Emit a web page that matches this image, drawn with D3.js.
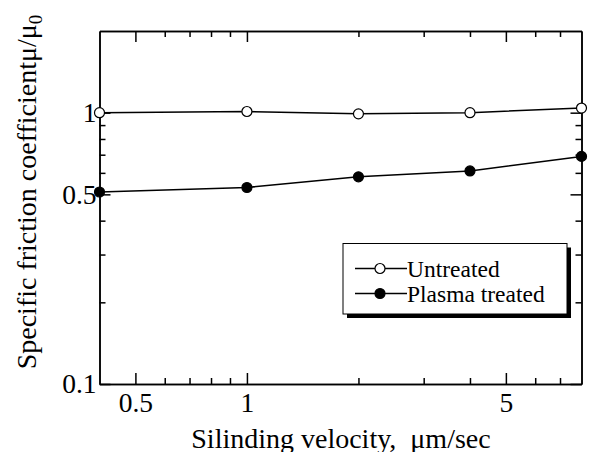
<!DOCTYPE html>
<html>
<head>
<meta charset="utf-8">
<script src="https://cdn.jsdelivr.net/npm/d3@7"></script>
<style>
  body { margin: 0; background: #fff; }
  svg text { font-family: "Liberation Serif", "Times New Roman", Times, "DejaVu Serif", serif; }
</style>
</head>
<body>
<svg id="chart" width="597" height="452"></svg>
<script>
// values
var velocity = [0.4, 1, 2, 4, 8];
var untreated = [1.0, 1.01, 0.99, 1.0, 1.04];
var plasma = [0.51, 0.53, 0.58, 0.61, 0.69];

var xMajor = [0.5, 1, 5];
var xMinor = [0.6, 0.7, 0.8, 0.9, 2, 3, 4, 6, 7];
var yMajor = [0.1, 0.5, 1];
var yMinor = [0.2, 0.3, 0.4, 0.6, 0.7, 0.8, 0.9];

var seriesNames = ["Untreated", "Plasma treated"];

var serif = "'Liberation Serif', 'Times New Roman', Times, 'DejaVu Serif', serif";
var plotL = 99.5, plotR = 581.5, plotT = 31, plotB = 384;

var svg = d3.select("#chart");

var xScale = d3.scaleLog().domain([0.4, 8]).range([plotL, plotR]);
var yScale = d3.scaleLog().domain([0.1, 2]).range([plotB, plotT]);

function styleAxis(g) {
  g.attr("font-family", null);
  g.selectAll("path, line").attr("stroke", "#000").attr("stroke-width", 1.5);
  g.selectAll("text").attr("fill", "#000").style("font-size", "27.5px")
    .style("font-family", serif);
}

// bottom
svg.append("g").attr("transform", "translate(0," + plotB + ")")
  .call(d3.axisBottom(xScale).tickValues(xMajor).tickSizeInner(-11).tickSizeOuter(0)
    .tickPadding(8).tickFormat(d3.format("")))
  .call(styleAxis);
svg.append("g").attr("transform", "translate(0," + plotB + ")")
  .call(d3.axisBottom(xScale).tickValues(xMinor).tickSizeInner(-6).tickSizeOuter(0).tickFormat(""))
  .call(styleAxis);
// top
svg.append("g").attr("transform", "translate(0," + plotT + ")")
  .call(d3.axisTop(xScale).tickValues(xMajor).tickSizeInner(-11).tickSizeOuter(0).tickFormat(""))
  .call(styleAxis);
svg.append("g").attr("transform", "translate(0," + plotT + ")")
  .call(d3.axisTop(xScale).tickValues(xMinor).tickSizeInner(-6).tickSizeOuter(0).tickFormat(""))
  .call(styleAxis);
// left
svg.append("g").attr("transform", "translate(" + plotL + ",0)")
  .call(d3.axisLeft(yScale).tickValues(yMajor).tickSizeInner(-11).tickSizeOuter(0)
    .tickPadding(3).tickFormat(d3.format("")))
  .call(styleAxis);
svg.append("g").attr("transform", "translate(" + plotL + ",0)")
  .call(d3.axisLeft(yScale).tickValues(yMinor).tickSizeInner(-6).tickSizeOuter(0).tickFormat(""))
  .call(styleAxis);
// right
svg.append("g").attr("transform", "translate(" + plotR + ",0)")
  .call(d3.axisRight(yScale).tickValues(yMajor).tickSizeInner(-11).tickSizeOuter(0).tickFormat(""))
  .call(styleAxis);
svg.append("g").attr("transform", "translate(" + plotR + ",0)")
  .call(d3.axisRight(yScale).tickValues(yMinor).tickSizeInner(-6).tickSizeOuter(0).tickFormat(""))
  .call(styleAxis);

// axis titles
svg.append("text")
  .attr("x", 341)
  .attr("y", 448)
  .attr("text-anchor", "middle")
  .style("font-size", "28px")
  .style("font-family", serif)
  .style("white-space", "pre")
  .text("Silinding velocity,  \u03bcm/sec");

var yl = svg.append("text")
  .attr("text-anchor", "middle")
  .attr("transform", "translate(36,192)rotate(-90)")
  .style("font-family", serif)
  .style("font-size", "28px");
yl.append("tspan").text("Specific friction coefficient\u03bc/\u03bc");
yl.append("tspan").attr("dy", 6).style("font-size", "19px").text("0");

// series
var line = d3.line()
  .x(function (d) { return xScale(d[0]); })
  .y(function (d) { return yScale(d[1]); });

var all = [untreated, plasma];
for (var s = 0; s < all.length; s++) {
  var pts = velocity.map(function (v, i) { return [v, all[s][i]]; });
  svg.append("path")
    .datum(pts)
    .attr("d", line)
    .attr("fill", "none")
    .attr("stroke", "#000")
    .attr("stroke-width", 1.5);
  svg.selectAll(".dot" + s)
    .data(pts)
    .enter()
    .append("circle")
    .attr("class", "dot" + s)
    .attr("cx", function (d) { return xScale(d[0]); })
    .attr("cy", function (d) { return yScale(d[1]); })
    .attr("r", 5)
    .attr("fill", s === 0 ? "#fff" : "#000")
    .attr("stroke", "#000")
    .attr("stroke-width", 1.2);
}

// legend
var lx = 343, ly = 243.5, lw = 224, lh = 70.5;
svg.append("rect").attr("x", lx + 4).attr("y", ly + 4).attr("width", lw).attr("height", lh).attr("fill", "#000");
svg.append("rect").attr("x", lx).attr("y", ly).attr("width", lw).attr("height", lh)
  .attr("fill", "#fff").attr("stroke", "#000").attr("stroke-width", 1);

for (var k = 0; k < seriesNames.length; k++) {
  var ry = 268.5 + k * 25;
  svg.append("line").attr("x1", 355).attr("x2", 407).attr("y1", ry).attr("y2", ry)
    .attr("stroke", "#000").attr("stroke-width", 1.5);
  svg.append("circle").attr("cx", 380).attr("cy", ry).attr("r", 5)
    .attr("fill", k === 0 ? "#fff" : "#000").attr("stroke", "#000").attr("stroke-width", 1.2);
  svg.append("text").attr("x", 407).attr("y", ry + 8)
    .style("font-size", "23.5px")
    .style("font-family", serif)
    .text(seriesNames[k]);
}
</script>
</body>
</html>
